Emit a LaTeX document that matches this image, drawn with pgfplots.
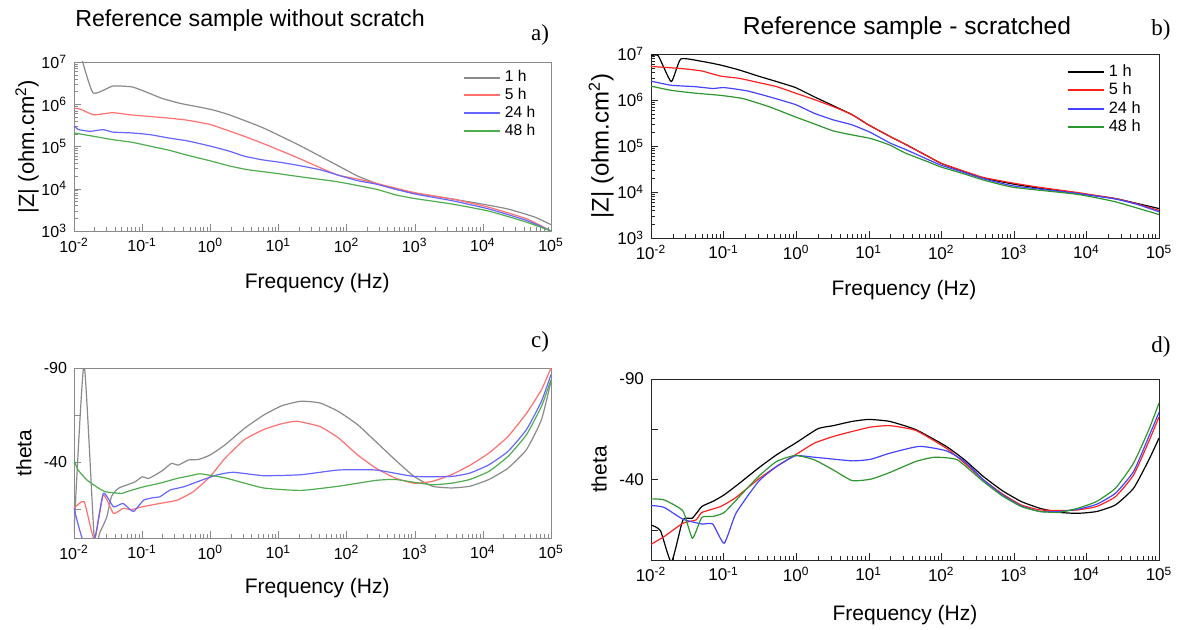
\documentclass[border=0pt]{standalone}
\usepackage{fontspec}
\setmainfont{Liberation Sans}
\newfontfamily\seriffont{Liberation Serif}
\usepackage{pgfplots}
\pgfplotsset{compat=1.18}
\definecolor{agray}{HTML}{8A8A8A}
\definecolor{ared}{HTML}{FF7070}
\definecolor{ablue}{HTML}{6666FF}
\definecolor{agreen}{HTML}{4FAD4F}
\definecolor{bred}{HTML}{FF2020}
\definecolor{bblue}{HTML}{4444FF}
\definecolor{bgreen}{HTML}{2E962E}
\newcommand{\tp}[1]{10\textsuperscript{#1}}
\pgfplotsset{
  legend image code/.code={\draw[#1, line width=1pt] (0pt,0pt) -- (18pt,0pt);},
  every axis plot/.append style={line width=0.6pt, line join=round, smooth, tension=0.3},
  tick align=inside, tick pos=left,
  major tick length=3.5pt, minor tick length=2pt,
  legend cell align=left,
}
\begin{document}
\begin{tikzpicture}
\path[use as bounding box] (0,0) rectangle (588.5pt,315pt);

% ---------------- a)
\begin{axis}[name=pa, scale only axis, xmode=log, ymode=log,
  xmin=1e-2, xmax=1e5, ymin=1e3, ymax=1e7,
  xtick={1e-2,1e-1,1,1e1,1e2,1e3,1e4,1e5},
  xticklabels={\tp{-2},\tp{-1},\tp{0},\tp{1},\tp{2},\tp{3},\tp{4},\tp{5}},
  minor xtick={2e-2,3e-2,4e-2,5e-2,6e-2,7e-2,8e-2,9e-2,0.2,0.3,0.4,0.5,0.6,0.7,0.8,0.9,2,3,4,5,6,7,8,9,20,30,40,50,60,70,80,90,200,300,400,500,600,700,800,900,2000,3000,4000,5000,6000,7000,8000,9000,20000,30000,40000,50000,60000,70000,80000,90000},
  ytick={1e3,1e4,1e5,1e6,1e7},
  yticklabels={\tp{3},\tp{4},\tp{5},\tp{6},\tp{7}},
  minor ytick={2e3,3e3,4e3,5e3,6e3,7e3,8e3,9e3,2e4,3e4,4e4,5e4,6e4,7e4,8e4,9e4,2e5,3e5,4e5,5e5,6e5,7e5,8e5,9e5,2e6,3e6,4e6,5e6,6e6,7e6,8e6,9e6},
  axis line style={agray}, major tick style={agray}, minor tick style={agray},
  at={(37pt,199.5pt)}, anchor=south west, width=238.5pt, height=84.5pt,
  tick label style={font=\fontsize{8}{9}\selectfont},
  xlabel={Frequency (Hz)},
  ylabel={|Z| (ohm.cm\textsuperscript{2})},
  xlabel style={at={(axis description cs:0.51,-0.308)}, anchor=center, font=\fontsize{10.5}{12}\selectfont},
  ylabel style={at={(axis description cs:-0.0985,0.5)}, anchor=center, font=\fontsize{11}{12}\selectfont},
  title={Reference sample without scratch},
  title style={at={(axis description cs:0.369,1.172)}, anchor=center, font=\fontsize{11.6}{13}\selectfont},
  legend style={draw=none, fill=none, anchor=north west, at={(axis description cs:0.802,1.0)}, font=\fontsize{7.8}{8.5}\selectfont, row sep=-2.2pt},
]
\addplot[color=agray] coordinates {(0.0125,1.5e7) (0.019,1.86e6) (0.037,2.69e6) (0.071,2.57e6) (0.11,2.0e6) (0.195,1.38e6) (0.36,1.05e6) (1,7.59e5) (1.9,5.62e5) (6,2.75e5) (21.4,1.02e5) (75.9,3.47e4) (145,2.0e4) (269,1.35e4) (513,9.77e3) (977,7.94e3) (3467,5.75e3) (9550,4.37e3) (23400,3.31e3) (57500,2.14e3) (1e5,1.41e3)};
\addplot[color=ared] coordinates {(0.01,8.13e5) (0.0126,7.59e5) (0.0195,5.62e5) (0.037,6.31e5) (0.066,5.62e5) (0.13,5.13e5) (0.25,4.68e5) (0.47,4.17e5) (1,3.31e5) (1.66,2.51e5) (3.16,1.74e5) (6,1.17e5) (11.2,7.76e4) (21.4,5.01e4) (40.7,3.16e4) (75.9,2.09e4) (145,1.70e4) (269,1.35e4) (977,8.13e3) (3467,5.75e3) (12300,3.63e3) (43600,1.95e3) (1e5,1.0e3)};
\addplot[color=ablue] coordinates {(0.01,3.09e5) (0.0117,2.51e5) (0.0174,2.29e5) (0.0269,2.51e5) (0.037,2.19e5) (0.071,2.09e5) (0.13,1.91e5) (0.25,1.58e5) (0.47,1.35e5) (1,1.02e5) (1.9,7.76e4) (3.16,5.89e4) (6,4.79e4) (11.2,4.17e4) (21.4,3.47e4) (40.7,2.82e4) (75.9,2.09e4) (145,1.55e4) (269,1.29e4) (977,7.59e3) (3467,5.25e3) (12300,3.31e3) (43600,1.78e3) (1e5,1.0e3)};
\addplot[color=agreen] coordinates {(0.01,2.09e5) (0.0195,1.74e5) (0.037,1.45e5) (0.071,1.26e5) (0.13,1.02e5) (0.25,8.13e4) (0.47,6.17e4) (1,4.57e4) (1.9,3.47e4) (3.55,2.82e4) (7.8,2.40e4) (21.4,1.91e4) (75.9,1.45e4) (269,9.77e3) (513,7.24e3) (977,5.89e3) (3467,4.37e3) (12300,2.95e3) (43600,1.62e3) (1e5,1.0e3)};
\legend{1 h,5 h,24 h,48 h}
\end{axis}
\node[font=\seriffont\fontsize{11.5}{13}\selectfont] at ([xshift=-5.5pt,yshift=13.5pt]pa.north east) {a)};

% ---------------- b)
\begin{axis}[name=pb, scale only axis, xmode=log, ymode=log,
  xmin=1e-2, xmax=1e5, ymin=1e3, ymax=1e7,
  xtick={1e-2,1e-1,1,1e1,1e2,1e3,1e4,1e5},
  xticklabels={\tp{-2},\tp{-1},\tp{0},\tp{1},\tp{2},\tp{3},\tp{4},\tp{5}},
  minor xtick={2e-2,3e-2,4e-2,5e-2,6e-2,7e-2,8e-2,9e-2,0.2,0.3,0.4,0.5,0.6,0.7,0.8,0.9,2,3,4,5,6,7,8,9,20,30,40,50,60,70,80,90,200,300,400,500,600,700,800,900,2000,3000,4000,5000,6000,7000,8000,9000,20000,30000,40000,50000,60000,70000,80000,90000},
  ytick={1e3,1e4,1e5,1e6,1e7},
  yticklabels={\tp{3},\tp{4},\tp{5},\tp{6},\tp{7}},
  minor ytick={2e3,3e3,4e3,5e3,6e3,7e3,8e3,9e3,2e4,3e4,4e4,5e4,6e4,7e4,8e4,9e4,2e5,3e5,4e5,5e5,6e5,7e5,8e5,9e5,2e6,3e6,4e6,5e6,6e6,7e6,8e6,9e6},
  axis line style={black!85}, major tick style={black!85}, minor tick style={black!85},
  at={(325.5pt,196pt)}, anchor=south west, width=254pt, height=92pt,
  tick label style={font=\fontsize{8.5}{10}\selectfont},
  xlabel={Frequency (Hz)},
  ylabel={|Z| (ohm.cm\textsuperscript{2})},
  xlabel style={at={(axis description cs:0.498,-0.283)}, anchor=center, font=\fontsize{10.5}{12}\selectfont},
  ylabel style={at={(axis description cs:-0.098,0.5)}, anchor=center, font=\fontsize{12}{13}\selectfont},
  title={Reference sample - scratched},
  title style={at={(axis description cs:0.504,1.077)}, anchor=center, font=\fontsize{12.3}{14}\selectfont},
  legend style={draw=none, fill=none, anchor=north west, at={(axis description cs:0.806,0.99)}, font=\fontsize{8.2}{9}\selectfont, row sep=-2.2pt},
]
\addplot[color=black] coordinates {(0.01,9.12e6) (0.0126,9.12e6) (0.019,2.51e6) (0.0257,7.76e6) (0.05,6.92e6) (0.091,5.75e6) (0.166,4.47e6) (0.30,3.31e6) (0.54,2.51e6) (0.98,1.86e6) (1.78,1.17e6) (3.2,7.59e5) (5.9,4.79e5) (10,2.86e5) (19.5,1.62e5) (31.6,1.10e5) (64.6,6.03e4) (100,4.17e4) (200,2.82e4) (380,2.0e4) (1000,1.48e4) (2291,1.20e4) (7413,9.33e3) (24500,7.24e3) (50100,5.62e3) (1e5,4.37e3)};
\addplot[color=bred] coordinates {(0.01,5.37e6) (0.015,5.13e6) (0.0275,4.79e6) (0.05,4.27e6) (0.091,3.31e6) (0.166,2.95e6) (0.30,2.40e6) (0.54,1.95e6) (0.98,1.41e6) (1.78,1.02e6) (3.2,7.24e5) (5.9,4.79e5) (10,2.86e5) (19.5,1.62e5) (31.6,1.10e5) (64.6,6.03e4) (100,4.2e4) (200,2.88e4) (380,2.07e4) (1000,1.55e4) (2291,1.26e4) (7413,9.77e3) (24500,7.24e3) (50100,5.5e3) (1e5,3.98e3)};
\addplot[color=bblue] coordinates {(0.01,2.57e6) (0.019,2.09e6) (0.04,1.95e6) (0.071,1.78e6) (0.102,1.86e6) (0.21,1.58e6) (0.43,1.17e6) (0.98,7.94e5) (1.78,5.13e5) (3.2,3.72e5) (5.9,2.88e5) (10.7,1.95e5) (19.5,1.17e5) (31.6,8.5e4) (64.6,5.13e4) (100,3.8e4) (200,2.69e4) (380,1.95e4) (1000,1.35e4) (7413,9.33e3) (24500,7.08e3) (50100,5.37e3) (1e5,3.72e3)};
\addplot[color=bgreen] coordinates {(0.01,2.0e6) (0.019,1.62e6) (0.04,1.41e6) (0.091,1.26e6) (0.186,1.07e6) (0.43,7.08e5) (0.98,4.27e5) (1.78,3.02e5) (3.2,2.14e5) (5.9,1.74e5) (10.7,1.45e5) (19.5,1.05e5) (31.6,7.08e4) (64.6,4.57e4) (100,3.47e4) (200,2.51e4) (380,1.82e4) (1000,1.26e4) (7413,8.91e3) (24500,6.17e3) (1e5,3.24e3)};
\legend{1 h,5 h,24 h,48 h}
\end{axis}
\node[font=\seriffont\fontsize{11.5}{13}\selectfont] at ([xshift=1pt,yshift=11.9pt]pb.north east) {b)};

% ---------------- c)
\begin{axis}[name=pc, scale only axis, xmode=log,
  xmin=1e-2, xmax=1e5, ymin=-90, ymax=0, y dir=reverse,
  xtick={1e-2,1e-1,1,1e1,1e2,1e3,1e4,1e5},
  xticklabels={\tp{-2},\tp{-1},\tp{0},\tp{1},\tp{2},\tp{3},\tp{4},\tp{5}},
  minor xtick={2e-2,3e-2,4e-2,5e-2,6e-2,7e-2,8e-2,9e-2,0.2,0.3,0.4,0.5,0.6,0.7,0.8,0.9,2,3,4,5,6,7,8,9,20,30,40,50,60,70,80,90,200,300,400,500,600,700,800,900,2000,3000,4000,5000,6000,7000,8000,9000,20000,30000,40000,50000,60000,70000,80000,90000},
  ytick={-90,-65,-40,-15}, yticklabels={-90,,-40,},
  axis line style={agray}, major tick style={agray}, minor tick style={agray},
  at={(37pt,46pt)}, anchor=south west, width=238.5pt, height=85pt,
  tick label style={font=\fontsize{8}{9}\selectfont},
  xlabel={Frequency (Hz)}, ylabel={theta},
  xlabel style={at={(axis description cs:0.51,-0.294)}, anchor=center, font=\fontsize{10.5}{12}\selectfont},
  ylabel style={at={(axis description cs:-0.105,0.5)}, anchor=center, font=\fontsize{10.5}{12}\selectfont},
]
\addplot[color=agray] coordinates {(0.01,-3) (0.01403,-92) (0.01995,2) (0.024,-3) (0.0302,-11) (0.0355,-22) (0.0447,-26.3) (0.0589,-28) (0.0794,-29.8) (0.1,-32.4) (0.123,-31.5) (0.155,-33.3) (0.204,-36) (0.269,-39.5) (0.339,-38.6) (0.479,-41.3) (0.676,-41.6) (1,-44) (1.66,-49.4) (3.16,-58) (6.03,-65) (11.2,-70) (21.4,-72.4) (40.7,-71.5) (75.9,-67) (145,-60) (269,-51) (513,-41.5) (977,-32.6) (1820,-27.4) (3467,-26.5) (6457,-27.4) (12300,-31) (23440,-37) (43650,-46.8) (72440,-62.6) (1e5,-83)};
\addplot[color=ared] coordinates {(0.01,-15.7) (0.0141,-19.2) (0.01995,1) (0.0269,-22.7) (0.038,-13) (0.0525,-15.7) (0.0692,-15) (0.1,-16.5) (0.182,-18.3) (0.324,-20) (0.562,-24.5) (1,-32.6) (1.66,-42.4) (3.16,-52) (6.03,-57.4) (11.2,-60.5) (18.6,-61.8) (40.7,-59) (75.9,-53) (145,-44) (269,-37) (513,-31.8) (977,-29) (1820,-30) (3467,-33.5) (6457,-38.5) (12300,-45) (23440,-53.8) (43650,-66) (72440,-78.5) (1e5,-90)};
\addplot[color=ablue] coordinates {(0.01,-15.7) (0.0135,1) (0.01995,1) (0.0269,-23.6) (0.038,-16.5) (0.0525,-18.3) (0.0741,-14) (0.105,-20) (0.148,-21.4) (0.182,-21.8) (0.257,-25.4) (0.407,-27.1) (0.708,-30.3) (1.29,-33.5) (2.19,-34.8) (6.03,-33) (21.4,-33.5) (75.9,-36) (269,-36) (977,-32.6) (3467,-32.6) (6457,-34.4) (12300,-38.8) (23440,-45.9) (43650,-57.4) (72440,-72.4) (1e5,-86.5)};
\addplot[color=agreen] coordinates {(0.01,-41.3) (0.01148,-36) (0.0155,-30.7) (0.0214,-27.1) (0.0288,-24.5) (0.0501,-23.6) (0.0589,-24.5) (0.105,-27.1) (0.182,-29) (0.324,-31.5) (0.562,-33.3) (0.708,-34) (1.66,-31.8) (6.03,-26.5) (21.4,-25.2) (75.9,-27.4) (269,-30.5) (513,-31) (977,-29.5) (1820,-28.2) (3467,-29) (6457,-31) (12300,-35.3) (23440,-43.2) (43650,-54.7) (72440,-69.7) (1e5,-83.8)};
\end{axis}
\node[font=\seriffont\fontsize{11.5}{13}\selectfont] at ([xshift=-5.5pt,yshift=13pt]pc.north east) {c)};

% ---------------- d)
\begin{axis}[name=pd, scale only axis, xmode=log,
  xmin=1e-2, xmax=1e5, ymin=-90, ymax=0, y dir=reverse,
  xtick={1e-2,1e-1,1,1e1,1e2,1e3,1e4,1e5},
  xticklabels={\tp{-2},\tp{-1},\tp{0},\tp{1},\tp{2},\tp{3},\tp{4},\tp{5}},
  minor xtick={2e-2,3e-2,4e-2,5e-2,6e-2,7e-2,8e-2,9e-2,0.2,0.3,0.4,0.5,0.6,0.7,0.8,0.9,2,3,4,5,6,7,8,9,20,30,40,50,60,70,80,90,200,300,400,500,600,700,800,900,2000,3000,4000,5000,6000,7000,8000,9000,20000,30000,40000,50000,60000,70000,80000,90000},
  ytick={-90,-65,-40,-15}, yticklabels={-90,,-40,},
  axis line style={black!85}, major tick style={black!85}, minor tick style={black!85},
  at={(325.5pt,35pt)}, anchor=south west, width=254pt, height=90.5pt,
  tick label style={font=\fontsize{8.5}{10}\selectfont},
  xlabel={Frequency (Hz)}, ylabel={theta},
  xlabel style={at={(axis description cs:0.5,-0.304)}, anchor=center, font=\fontsize{10.5}{12}\selectfont},
  ylabel style={at={(axis description cs:-0.102,0.5)}, anchor=center, font=\fontsize{10.5}{12}\selectfont},
]
\addplot[color=black] coordinates {(0.01,-17.4) (0.0135,-14.6) (0.0191,1) (0.0275,-19.9) (0.0372,-20.8) (0.0501,-26.6) (0.0708,-29.1) (0.102,-32.4) (0.166,-38.2) (0.302,-45.7) (0.537,-52.3) (0.977,-58.1) (2.0,-65.3) (3.24,-66.8) (5.89,-68.9) (10,-69.9) (19.5,-68.9) (44.7,-64.8) (117,-56.5) (209,-49.8) (380,-41.5) (692,-34.5) (1259,-29.1) (2291,-25.7) (4169,-23.7) (7586,-23.2) (13800,-24.1) (25120,-27.4) (44670,-35.7) (72440,-49.8) (1e5,-60.6)};
\addplot[color=bred] coordinates {(0.01,-7.8) (0.0151,-11.6) (0.0275,-18.3) (0.0417,-19.9) (0.0501,-23.6) (0.0912,-26.6) (0.148,-31.1) (0.302,-40.2) (0.537,-46.5) (0.977,-52.3) (1.78,-58.1) (3.24,-61.4) (5.89,-63.9) (10.7,-66.1) (19.5,-66.8) (44.7,-64.4) (117,-55.6) (209,-48.2) (380,-39.9) (692,-32.9) (1259,-27.4) (2291,-24.9) (4677,-24.6) (7586,-24.9) (13800,-26.6) (25120,-31.5) (44670,-42.3) (72440,-59.0) (1e5,-71.1)};
\addplot[color=bblue] coordinates {(0.01,-27.1) (0.0151,-26.2) (0.0275,-20.3) (0.0501,-17.9) (0.0708,-17.9) (0.102,-8.3) (0.148,-23.2) (0.302,-39.0) (0.537,-46.5) (0.977,-51.8) (1.78,-51.1) (5.89,-49.3) (10.7,-50.1) (19.5,-53.1) (50,-56.5) (117,-54.3) (209,-49.0) (380,-39.9) (692,-32.4) (1259,-26.9) (2291,-24.1) (4169,-24.1) (7586,-25.2) (13800,-27.7) (25120,-33.2) (44670,-44.0) (72440,-61.4) (1e5,-73.4)};
\addplot[color=bgreen] coordinates {(0.01,-30.4) (0.0151,-29.9) (0.0275,-24.4) (0.0372,-10.8) (0.0501,-21.2) (0.0708,-21.6) (0.102,-23.6) (0.166,-31.6) (0.302,-41.5) (0.537,-49.0) (0.977,-52.0) (1.78,-49.8) (3.24,-44.8) (5.89,-39.5) (10.7,-40.2) (19.5,-43.5) (44.7,-49.0) (81.3,-51.1) (166,-49.8) (380,-39.0) (692,-31.9) (1259,-26.6) (2291,-24.1) (4169,-23.7) (7586,-25.7) (13800,-29.1) (25120,-35.7) (44670,-48.2) (72440,-64.8) (1e5,-78.0)};
\end{axis}
\node[font=\seriffont\fontsize{11.5}{13}\selectfont] at ([xshift=1pt,yshift=16pt]pd.north east) {d)};
\end{tikzpicture}
\end{document}
